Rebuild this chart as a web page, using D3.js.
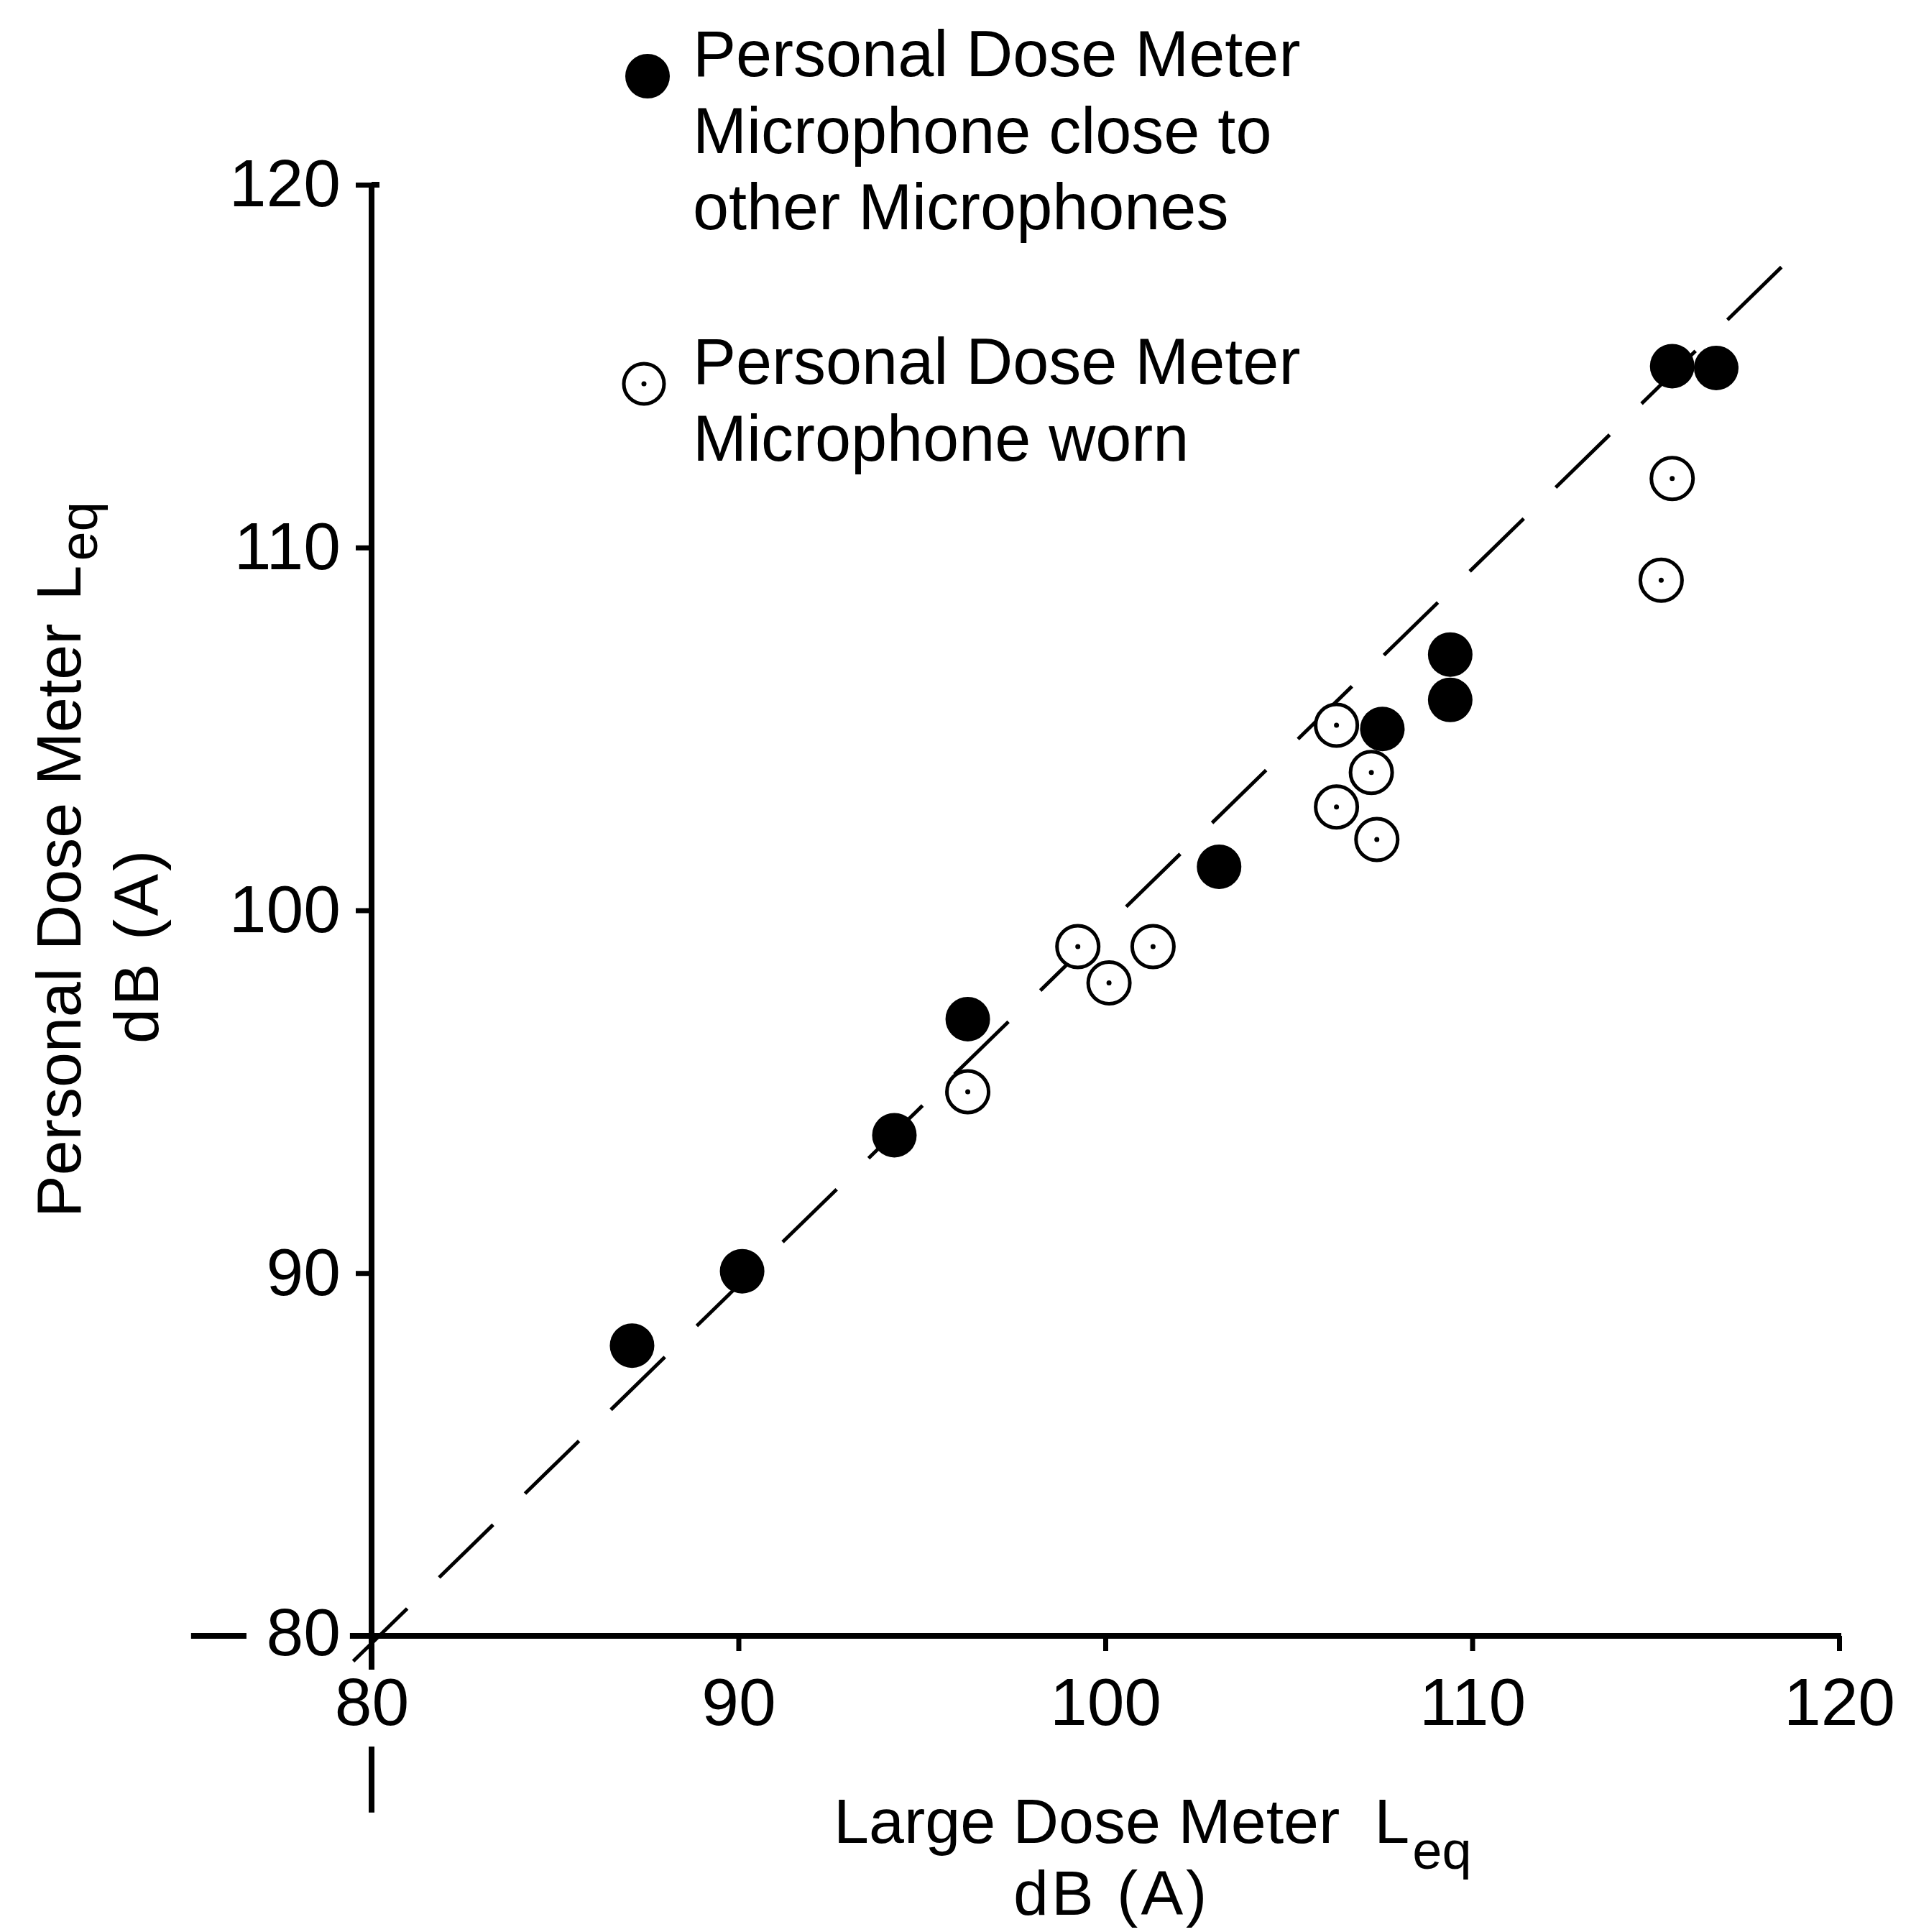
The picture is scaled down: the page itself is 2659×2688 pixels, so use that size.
<!DOCTYPE html>
<html><head><meta charset="utf-8">
<script src="https://cdn.jsdelivr.net/npm/d3@7"></script>
<style>html,body{margin:0;padding:0;background:#fff}</style>
</head><body>
<svg id="chart" width="2659" height="2688"></svg>
<script>
// ---- data ----
const closeX = [87.1, 90.1, 94.25, 96.25, 103.1, 107.55, 109.4, 109.4, 115.45, 116.65];
const closeY = [88.0, 90.05, 93.8, 97.0, 101.2, 105.0, 107.05, 105.8, 115.0, 114.95];
const wornX  = [96.25, 99.25, 100.1, 101.3, 106.3, 107.25, 106.3, 107.4, 115.15, 115.45];
const wornY  = [95.0, 99.0, 98.0, 99.0, 105.1, 103.8, 102.85, 101.95, 109.1, 111.9];
const tickValues = [80, 90, 100, 110, 120];
const tickLabels = ["80", "90", "100", "110", "120"];
const refLineX = [79.5, 118.6];
const refLineY = [79.3, 117.9];
const legendCloseLines = ["Personal Dose Meter", "Microphone close to", "other Microphones"];
const legendWornLines = ["Personal Dose Meter", "Microphone worn"];
const xTitle = ["Large Dose Meter", "L", "eq", "dB (A)"];
const yTitle = ["Personal Dose Meter", "L", "eq", "dB (A)"];

// ---- layout ----
const svg = d3.select("#chart");
const FONT = "'Liberation Sans', Arial, sans-serif";
const x = d3.scaleLinear().domain([80, 120]).range([517, 2559]);
const y = d3.scaleLinear().domain([80, 120]).range([2276, 257]);
const AX = 8;

// reference dashed line
const refPts = refLineX.map((v, i) => [v, refLineY[i]]);
svg.append("path")
  .attr("d", d3.line().x(d => x(d[0])).y(d => y(d[1]))(refPts))
  .attr("fill", "none").attr("stroke", "#000").attr("stroke-width", 5)
  .attr("stroke-dasharray", "105,62");

// axes (ticks + labels)
const yAxis = d3.axisLeft(y).tickValues(tickValues.slice(1))
  .tickFormat((d) => tickLabels[tickValues.indexOf(d)]).tickSize(22).tickPadding(21);
const gy = svg.append("g").attr("transform", `translate(${x(80)},0)`).call(yAxis);
gy.select(".domain").remove();
gy.selectAll(".tick line").attr("stroke-width", 7);
gy.selectAll("text").attr("font-family", FONT).attr("font-size", 93).attr("fill", "#000");
// y=80 label
svg.append("text").attr("x", x(80) - 43).attr("y", y(80) + 27)
  .attr("text-anchor", "end").attr("font-family", FONT).attr("font-size", 93).text(tickLabels[0]);

const xAxis = d3.axisBottom(x).tickValues(tickValues)
  .tickFormat((d) => tickLabels[tickValues.indexOf(d)]).tickSize(21).tickPadding(37);
const gx = svg.append("g").attr("transform", `translate(0,${y(80)})`).call(xAxis);
gx.select(".domain").remove();
gx.selectAll(".tick line").attr("stroke-width", 7);
gx.selectAll("text").attr("font-family", FONT).attr("font-size", 93).attr("fill", "#000");

// axis lines
const seg = (x1, y1, x2, y2) => svg.append("line")
  .attr("x1", x1).attr("y1", y1).attr("x2", x2).attr("y2", y2)
  .attr("stroke", "#000").attr("stroke-width", AX);
seg(x(80), y(120), x(80), y(79.07));
seg(x(80), y(76.95), x(80), y(75.13));
seg(x(79.41), y(80), x(120) + 3, y(80));
seg(x(75.08), y(80), x(76.59), y(80));
seg(x(80), y(120), x(80) + 11, y(120)); // top cap

// worn (open circles)
const worn = wornX.map((v, i) => [v, wornY[i]]);
const gw = svg.append("g");
gw.selectAll("circle.o").data(worn).join("circle")
  .attr("cx", d => x(d[0])).attr("cy", d => y(d[1])).attr("r", 29)
  .attr("fill", "#fff").attr("stroke", "#000").attr("stroke-width", 5);
gw.selectAll("circle.d").data(worn).join("circle").attr("class", "d")
  .attr("cx", d => x(d[0])).attr("cy", d => y(d[1])).attr("r", 3.5).attr("fill", "#000");

// close (filled)
const close = closeX.map((v, i) => [v, closeY[i]]);
svg.append("g").selectAll("circle").data(close).join("circle")
  .attr("cx", d => x(d[0])).attr("cy", d => y(d[1])).attr("r", 31).attr("fill", "#000");

// legend
const lg = svg.append("g").attr("font-family", FONT).attr("font-size", 90);
lg.append("circle").attr("cx", 901).attr("cy", 106).attr("r", 31).attr("fill", "#000");
legendCloseLines.forEach((t, i) => lg.append("text").attr("x", 964).attr("y", 106 + i * 106.5).text(t));
lg.append("circle").attr("cx", 896).attr("cy", 534).attr("r", 28)
  .attr("fill", "#fff").attr("stroke", "#000").attr("stroke-width", 5);
lg.append("circle").attr("cx", 896).attr("cy", 534).attr("r", 3.5).attr("fill", "#000");
legendWornLines.forEach((t, i) => lg.append("text").attr("x", 964).attr("y", 534 + i * 106.5).text(t));

// x title
const xt = svg.append("text").attr("font-family", FONT).attr("font-size", 88)
  .attr("x", 1160).attr("y", 2564);
xt.append("tspan").text(xTitle[0]);
xt.append("tspan").attr("dx", 48).text(xTitle[1]);
xt.append("tspan").attr("font-size", 74).attr("dy", 36).attr("dx", 4).text(xTitle[2]);
svg.append("text").attr("font-family", FONT).attr("font-size", 88)
  .attr("letter-spacing", 4).attr("x", 1410).attr("y", 2664).text(xTitle[3]);

// y title
const yt = svg.append("text").attr("font-family", FONT).attr("font-size", 88)
  .attr("transform", "translate(112,1694) rotate(-90)");
yt.append("tspan").text(yTitle[0]);
yt.append("tspan").attr("dx", 32).text(yTitle[1]);
yt.append("tspan").attr("font-size", 74).attr("dy", 23).attr("dx", 6).text(yTitle[2]);
svg.append("text").attr("font-family", FONT).attr("font-size", 88).attr("letter-spacing", 4)
  .attr("transform", "translate(220,1452) rotate(-90)").text(yTitle[3]);
</script>
</body></html>
